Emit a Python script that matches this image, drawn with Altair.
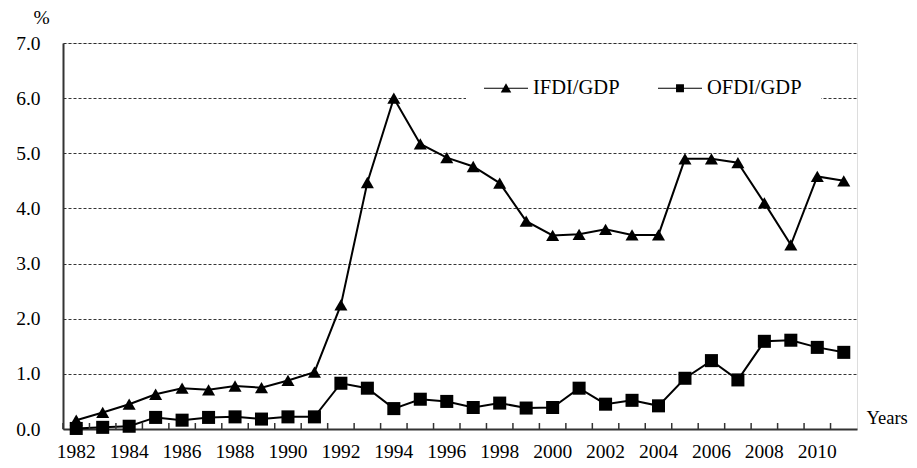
import altair as alt
import pandas as pd

years = list(range(1982, 2012))
ifdi = [0.16, 0.30, 0.45, 0.63, 0.74, 0.71, 0.78, 0.75, 0.88, 1.03,
        2.25, 4.47, 6.00, 5.17, 4.92, 4.76, 4.46, 3.77, 3.51, 3.53,
        3.62, 3.52, 3.52, 4.90, 4.90, 4.83, 4.10, 3.34, 4.58, 4.50]
ofdi = [0.01, 0.03, 0.05, 0.21, 0.16, 0.21, 0.22, 0.18, 0.22, 0.22,
        0.83, 0.74, 0.37, 0.54, 0.50, 0.39, 0.47, 0.38, 0.39, 0.74,
        0.45, 0.52, 0.42, 0.92, 1.24, 0.89, 1.59, 1.61, 1.48, 1.39]
series_names = ["IFDI/GDP", "OFDI/GDP"]

rows = []
for y, a, b in zip(years, ifdi, ofdi):
    rows.append({"year": y, "series": series_names[0], "value": a})
    rows.append({"year": y, "series": series_names[1], "value": b})
df = pd.DataFrame(rows)
years_df = pd.DataFrame({"year": years})

FONT = "Liberation Serif"

tri_path = "M-1,-0.025H1V0.025H-1ZM-0.24,0.19L0,-0.23L0.24,0.19Z"
sq_path = "M-1,-0.025H1V0.025H-1ZM-0.18,-0.18H0.18V0.18H-0.18Z"

xscale = alt.Scale(type="band", paddingInner=0, paddingOuter=0)

x_enc = alt.X(
    "year:O",
    scale=xscale,
    axis=alt.Axis(
        title="Years", bandPosition=0.5,
        titleX=803, titleY=-12, titleAlign="left", titleBaseline="middle",
        titleFont=FONT, titleFontSize=18.5, titleFontWeight="normal", titleColor="black",
        labelFont=FONT, labelFontSize=19.5, labelColor="black", labelAngle=0,
        labelPadding=13, labelOverlap=False,
        labelExpr="datum.value % 2 == 0 ? datum.label : ''",
        ticks=False, domainColor="#333", domainWidth=2, grid=False,
    ),
    bandPosition=0.5,
)
y_enc = alt.Y(
    "value:Q",
    scale=alt.Scale(domain=[0, 7], nice=False),
    axis=alt.Axis(
        title="%", titleAngle=0, titleX=-22, titleY=-26, titleAlign="center",
        titleBaseline="middle", titleFont=FONT, titleFontSize=19.5,
        titleFontWeight="normal", titleColor="black",
        values=[0, 1, 2, 3, 4, 5, 6, 7], format=".1f",
        labelFont=FONT, labelFontSize=19.5, labelColor="black", labelPadding=23,
        ticks=False, domainColor="#333", domainWidth=2,
        grid=True, gridColor="#000", gridDash=[3, 2], gridWidth=0.8,
    ),
)

base = alt.Chart(df)

lines = base.mark_line(color="black", strokeWidth=2).encode(
    x=x_enc, y=y_enc, detail="series:N"
)

points = base.mark_point(filled=True, opacity=1, color="black", size=170).encode(
    x=x_enc, y=y_enc,
    shape=alt.Shape(
        "series:N",
        scale=alt.Scale(domain=series_names, range=["triangle-up", "square"]),
        legend=None,
    ),
)

legend_proxy = base.mark_point(filled=True, opacity=0, color="black", size=10).encode(
    x=x_enc, y=y_enc,
    shape=alt.Shape(
        "series:N",
        scale=alt.Scale(domain=series_names, range=[tri_path, sq_path]),
        legend=alt.Legend(
            title=None, orient="none", legendX=403, legendY=5,
            direction="horizontal", columns=2, columnPadding=38,
            padding=18, fillColor="white", strokeColor="white",
            labelFont=FONT, labelFontSize=20.5, labelColor="black", labelOffset=5,
            symbolSize=1936, symbolFillColor="black", symbolStrokeColor="black",
            symbolStrokeWidth=0, symbolOpacity=1,
        ),
    ),
)

# inward tick marks at the category boundaries
ticks = alt.Chart(years_df).mark_rule(color="#333", strokeWidth=1.5).encode(
    x=alt.X("year:O", scale=xscale, bandPosition=0),
    y=alt.value(380),
    y2=alt.value(386),
)

chart = (
    alt.layer(lines, points, legend_proxy, ticks)
    .resolve_scale(shape="independent")
    .properties(
        width=794, height=386,
        autosize=alt.AutoSizeParams(type="none"),
        padding={"left": 55, "top": 35, "right": 52, "bottom": 31},
    )
    .configure_view(stroke="#888", strokeWidth=1.5)
    .configure(background="white")
)

chart.save("out.html", embed_options={"renderer": "svg", "actions": False})
